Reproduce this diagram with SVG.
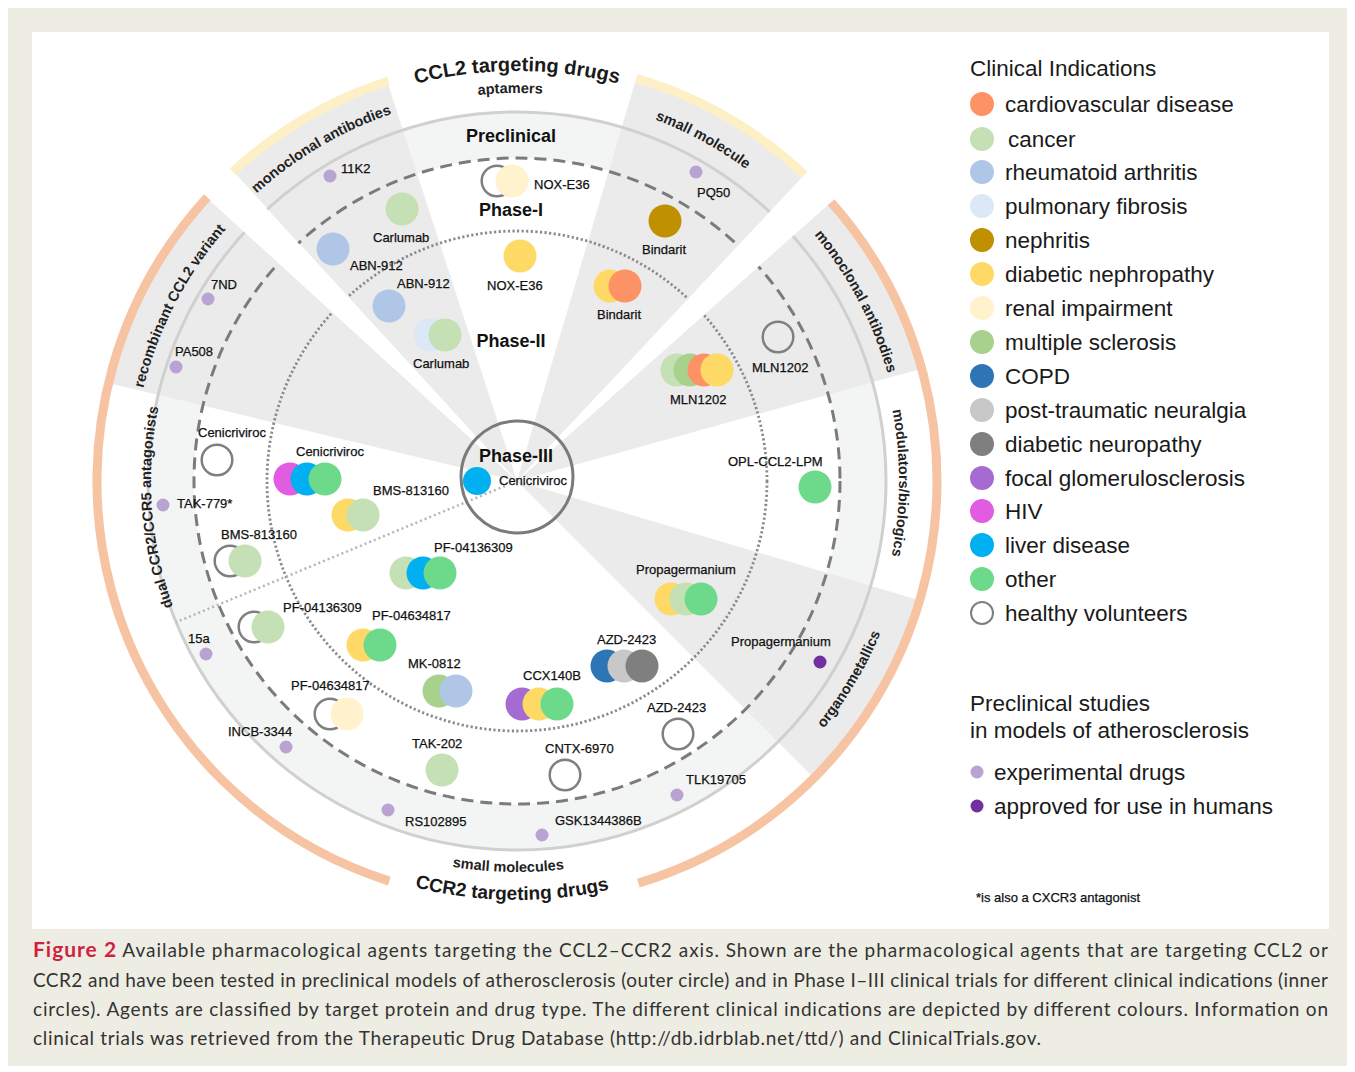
<svg xmlns="http://www.w3.org/2000/svg" width="1355" height="1072" viewBox="0 0 1355 1072">
<style>
.lb{font-family:"Liberation Sans",Arial,sans-serif;font-size:13px;fill:#111;stroke:#111;stroke-width:0.25}
.ph{font-family:"Liberation Sans",Arial,sans-serif;font-size:18px;font-weight:bold;fill:#111;text-anchor:middle}
.cat{font-family:"Liberation Sans",Arial,sans-serif;font-size:14.5px;font-weight:bold;fill:#222}
.big{font-family:"Liberation Sans",Arial,sans-serif;font-weight:bold;fill:#1a1a1a}
.lg{font-family:"Liberation Sans",Arial,sans-serif;font-size:22.5px;fill:#1a1a1a}
.cap{font-family:Lato,"Open Sans",sans-serif;font-size:19px;fill:#333}
.cv{fill:#fd9264}.ca{fill:#c5e0b4}.ra{fill:#b0c6e7}.pf{fill:#dce8f5}.ne{fill:#bf9000}.dn{fill:#ffd966}.ri{fill:#fff2cc}.ms{fill:#a9d18e}.co{fill:#2e75b6}.pt{fill:#c8c8c8}.dnu{fill:#7f7f7f}.fg{fill:#a66bd3}.hiv{fill:#e15ce0}.lv{fill:#00b0f0}.ot{fill:#6dd98a}
.hv{fill:none;stroke:#7f7f7f;stroke-width:2.5}
.ex{fill:#b9a3d2}.ap{fill:#7030a0}
.sec{fill:#ebebeb}
.band{fill:none;stroke-width:9}
</style>
<defs>
<path id="p-ccl2" d="M202.9,217.5 A410,410 0 0 1 831.1,217.5"/>
<path id="p-apt" d="M262.4,188.2 A388,388 0 0 1 761.2,179.5"/>
<path id="p-mab1" d="M151.3,351.5 A388,388 0 0 1 581,98.3"/>
<path id="p-sm1" d="M440.5,101.6 A387,387 0 0 1 877.3,339.8"/>
<path id="p-rec" d="M161.6,629 A385,385 0 0 1 433,105.3"/>
<path id="p-dual" d="M302.9,777.9 A366,366 0 0 1 261.8,218.6"/>
<path id="p-mab2" d="M597.9,103.6 A386,386 0 0 1 874.6,626.2"/>
<path id="p-mod" d="M764.1,189.6 A382,382 0 0 1 761,774.9"/>
<path id="p-org" d="M580,869.9 A394,394 0 0 0 889.1,351.4"/>
<path id="p-sm2" d="M211.9,725.5 A391,391 0 0 0 810.8,739.1"/>
<path id="p-ccr2" d="M192.8,746.4 A419,419 0 0 0 834.6,754.2"/>
</defs>

<rect width="1355" height="1072" fill="#fff"/>
<rect x="8" y="8" width="1339" height="1058" fill="#eeede3"/>
<rect x="32" y="32" width="1297" height="897" fill="#fff"/>

<g id="sectors">
<circle cx="517" cy="481" r="346" fill="none" stroke="#f3f5f4" stroke-width="46"/>
<path class="sec" d="M517,481 L235.3,173.5 A417,417 0 0 1 388.1,84.4 Z"/>
<path class="sec" d="M517,481 L635.4,81.2 A417,417 0 0 1 804.1,178.5 Z"/>
<path class="sec" d="M517,481 L827.9,203.1 A417,417 0 0 1 918.8,369.6 Z"/>
<path class="sec" d="M517,481 L916.8,599.4 A417,417 0 0 1 811.9,775.9 Z"/>
<path class="sec" d="M517,481 L111.5,383.7 A417,417 0 0 1 210.5,198.2 Z"/>
</g>

<g id="rings">
<circle cx="517" cy="481" r="369" fill="none" stroke="#d0d0d0" stroke-width="3"/>
<circle cx="517" cy="481" r="323" fill="none" stroke="#7b7b7b" stroke-width="3" stroke-dasharray="12 7"/>
<circle cx="517" cy="481" r="250" fill="none" stroke="#8a8a8a" stroke-width="2.8" stroke-dasharray="2.2 2.4"/>
<line x1="505" y1="486" x2="176.1" y2="622.2" stroke="#b5b5b5" stroke-width="2.5" stroke-dasharray="2 3"/>
</g>

<g id="gaps" fill="#fff">
<polygon points="517,481 198.0,189.7 224.6,163.0"/>
<polygon points="517,481 812.7,166.1 840.0,194.2"/>
</g>

<g id="bands">
<path class="band" stroke="#fdefc6" d="M232.7,171.8 A420,420 0 0 1 388.6,81.1"/>
<path class="band" stroke="#fdefc6" d="M636.3,78.3 A420,420 0 0 1 804.5,174.8"/>
<path class="band" stroke="#f6c4a2" d="M389.3,881.1 A420,420 0 0 1 207.3,197.2"/>
<path class="band" stroke="#f6c4a2" d="M831.1,202.2 A420,420 0 0 1 638.4,883.1"/>
</g>

<g id="phase3-ring">
<circle cx="517" cy="477" r="56" fill="none" stroke="#7b7b7b" stroke-width="3"/>
</g>

<g id="category-labels">
<text class="big" font-size="20" text-anchor="middle"><textPath href="#p-ccl2" startOffset="50%">CCL2 targeting drugs</textPath></text>
<text class="cat" text-anchor="middle"><textPath href="#p-apt" startOffset="50%">aptamers</textPath></text>
<text class="cat" text-anchor="middle"><textPath href="#p-mab1" startOffset="50%">monoclonal antibodies</textPath></text>
<text class="cat" text-anchor="middle"><textPath href="#p-sm1" startOffset="50%">small molecule</textPath></text>
<text class="cat" text-anchor="middle"><textPath href="#p-rec" startOffset="50%">recombinant CCL2 variant</textPath></text>
<text class="cat" text-anchor="middle" font-weight="normal" font-size="14"><textPath href="#p-dual" startOffset="50%">dual CCR2/CCR5 antagonists</textPath></text>
<text class="cat" text-anchor="middle"><textPath href="#p-mab2" startOffset="50%">monoclonal antibodies</textPath></text>
<text class="cat" text-anchor="middle"><textPath href="#p-mod" startOffset="50%">modulators/biologics</textPath></text>
<text class="cat" text-anchor="middle"><textPath href="#p-org" startOffset="50%">organometallics</textPath></text>
<text class="cat" text-anchor="middle"><textPath href="#p-sm2" startOffset="50%">small molecules</textPath></text>
<text class="big" font-size="19" text-anchor="middle"><textPath href="#p-ccr2" startOffset="50%">CCR2 targeting drugs</textPath></text>
</g>

<g id="phase-labels">
<text class="ph" x="511" y="142">Preclinical</text>
<text class="ph" x="511" y="216">Phase-I</text>
<text class="ph" x="511" y="347">Phase-II</text>
<text class="ph" x="516" y="462">Phase-III</text>
</g>

<g id="n-11K2"><circle class="ex" cx="330" cy="176" r="6.5"/><text class="lb" x="341" y="173">11K2</text></g>
<g id="n-carlumab-pre"><circle class="ca" cx="402" cy="209" r="16.5"/><text class="lb" x="373" y="242">Carlumab</text></g>
<g id="n-abn912-pre"><circle class="ra" cx="333" cy="249" r="16.5"/><text class="lb" x="350" y="270">ABN-912</text></g>
<g id="n-abn912-p2"><circle class="ra" cx="389" cy="306" r="16.5"/><text class="lb" x="397" y="288">ABN-912</text></g>
<g id="n-carlumab-p2"><circle class="pf" cx="430" cy="335" r="16.5"/><circle class="ca" cx="445" cy="335" r="16.5"/><text class="lb" x="413" y="368">Carlumab</text></g>
<g id="n-noxe36-pre"><circle class="hv" cx="497" cy="181" r="15.3"/><circle class="ri" cx="512" cy="181" r="16.5"/><text class="lb" x="534" y="189">NOX-E36</text></g>
<g id="n-noxe36-p1"><circle class="dn" cx="520" cy="256" r="16.5"/><text class="lb" x="487" y="290">NOX-E36</text></g>
<g id="n-pq50"><circle class="ex" cx="696" cy="172" r="6.5"/><text class="lb" x="697" y="197">PQ50</text></g>
<g id="n-bindarit-pre"><circle class="ne" cx="665" cy="221" r="16.5"/><text class="lb" x="642" y="254">Bindarit</text></g>
<g id="n-bindarit-p2"><circle class="dn" cx="610" cy="286" r="16.5"/><circle class="cv" cx="625" cy="286" r="16.5"/><text class="lb" x="597" y="319">Bindarit</text></g>

<g id="n-mln1202-pre"><circle class="hv" cx="778" cy="337" r="15.3"/><text class="lb" x="752" y="372">MLN1202</text></g>
<g id="n-mln1202-p2"><circle class="ca" cx="677" cy="370" r="16.5"/><circle class="ms" cx="690" cy="370" r="16.5"/><circle class="cv" cx="704" cy="370" r="16.5"/><circle class="dn" cx="717" cy="370" r="16.5"/><text class="lb" x="670" y="404">MLN1202</text></g>
<g id="n-opl"><circle class="ot" cx="815" cy="487" r="16.5"/><text class="lb" x="728" y="466">OPL-CCL2-LPM</text></g>
<g id="n-propa-pre"><circle class="ap" cx="820" cy="662" r="6.5"/><text class="lb" x="731" y="646">Propagermanium</text></g>
<g id="n-propa-p2"><circle class="dn" cx="671" cy="599" r="16.5"/><circle class="ca" cx="686" cy="599" r="16.5"/><circle class="ot" cx="701" cy="599" r="16.5"/><text class="lb" x="636" y="574">Propagermanium</text></g>

<g id="n-azd2423-p2"><circle class="co" cx="607" cy="666" r="16.5"/><circle class="pt" cx="624" cy="666" r="16.5"/><circle class="dnu" cx="642" cy="666" r="16.5"/><text class="lb" x="597" y="644">AZD-2423</text></g>
<g id="n-ccx140b"><circle class="fg" cx="522" cy="704" r="16.5"/><circle class="dn" cx="539" cy="704" r="16.5"/><circle class="ot" cx="557" cy="704" r="16.5"/><text class="lb" x="523" y="680">CCX140B</text></g>
<g id="n-azd2423-pre"><circle class="hv" cx="678" cy="734" r="15.3"/><text class="lb" x="647" y="712">AZD-2423</text></g>
<g id="n-cntx6970"><circle class="hv" cx="565" cy="775" r="15.3"/><text class="lb" x="545" y="753">CNTX-6970</text></g>
<g id="n-tlk19705"><circle class="ex" cx="677" cy="795" r="6.5"/><text class="lb" x="686" y="784">TLK19705</text></g>
<g id="n-gsk"><circle class="ex" cx="542" cy="835" r="6.5"/><text class="lb" x="555" y="825">GSK1344386B</text></g>
<g id="n-rs102895"><circle class="ex" cx="388" cy="810" r="6.5"/><text class="lb" x="405" y="826">RS102895</text></g>
<g id="n-tak202"><circle class="ca" cx="442" cy="770" r="16.5"/><text class="lb" x="412" y="748">TAK-202</text></g>
<g id="n-incb3344"><circle class="ex" cx="286" cy="747" r="6.5"/><text class="lb" x="228" y="736">INCB-3344</text></g>
<g id="n-pf04634817-pre"><circle class="hv" cx="330" cy="714" r="15.3"/><circle class="ri" cx="347" cy="714" r="16.5"/><text class="lb" x="291" y="690">PF-04634817</text></g>
<g id="n-mk0812"><circle class="ms" cx="439" cy="691" r="16.5"/><circle class="ra" cx="456" cy="691" r="16.5"/><text class="lb" x="408" y="668">MK-0812</text></g>
<g id="n-pf04634817-p2"><circle class="dn" cx="363" cy="645" r="16.5"/><circle class="ot" cx="380" cy="645" r="16.5"/><text class="lb" x="372" y="620">PF-04634817</text></g>
<g id="n-pf04136309-pre"><circle class="hv" cx="254" cy="627" r="15.3"/><circle class="ca" cx="268" cy="627" r="16.5"/><text class="lb" x="283" y="612">PF-04136309</text></g>
<g id="n-15a"><circle class="ex" cx="206" cy="654" r="6.5"/><text class="lb" x="188" y="643">15a</text></g>
<g id="n-pf04136309-p2"><circle class="ca" cx="406" cy="573" r="16.5"/><circle class="lv" cx="423" cy="573" r="16.5"/><circle class="ot" cx="440" cy="573" r="16.5"/><text class="lb" x="434" y="552">PF-04136309</text></g>

<g id="n-cenicriviroc-pre"><circle class="hv" cx="217" cy="460" r="15.3"/><text class="lb" x="198" y="437">Cenicriviroc</text></g>
<g id="n-cenicriviroc-p2"><circle class="hiv" cx="290" cy="479" r="16.5"/><circle class="lv" cx="307" cy="479" r="16.5"/><circle class="ot" cx="325" cy="479" r="16.5"/><text class="lb" x="296" y="456">Cenicriviroc</text></g>
<g id="n-bms813160-p2"><circle class="dn" cx="348" cy="515" r="16.5"/><circle class="ca" cx="363" cy="515" r="16.5"/><text class="lb" x="373" y="495">BMS-813160</text></g>
<g id="n-tak779"><circle class="ex" cx="163" cy="505" r="6.5"/><text class="lb" x="177" y="508">TAK-779*</text></g>
<g id="n-bms813160-pre"><circle class="hv" cx="230" cy="561" r="15.3"/><circle class="ca" cx="245" cy="561" r="16.5"/><text class="lb" x="221" y="539">BMS-813160</text></g>
<g id="n-cenicriviroc-p3"><circle class="lv" cx="477" cy="481" r="14"/><text class="lb" x="499" y="485" font-size="12.5">Cenicriviroc</text></g>
<g id="n-7nd"><circle class="ex" cx="208" cy="299" r="6.5"/><text class="lb" x="211" y="289">7ND</text></g>
<g id="n-pa508"><circle class="ex" cx="176" cy="367" r="6.5"/><text class="lb" x="175" y="356">PA508</text></g>

<g id="connectors"></g>

<g id="legend">
<text class="lg" x="970" y="76">Clinical Indications</text>
<circle class="cv" cx="982" cy="104" r="12"/><text class="lg" x="1005" y="112">cardiovascular disease</text>
<circle class="ca" cx="982" cy="139" r="12"/><text class="lg" x="1008" y="147">cancer</text>
<circle class="ra" cx="982" cy="172" r="12"/><text class="lg" x="1005" y="180">rheumatoid arthritis</text>
<circle class="pf" cx="982" cy="206" r="12"/><text class="lg" x="1005" y="214">pulmonary fibrosis</text>
<circle class="ne" cx="982" cy="240" r="12"/><text class="lg" x="1005" y="248">nephritis</text>
<circle class="dn" cx="982" cy="274" r="12"/><text class="lg" x="1005" y="282">diabetic nephropathy</text>
<circle class="ri" cx="982" cy="308" r="12"/><text class="lg" x="1005" y="316">renal impairment</text>
<circle class="ms" cx="982" cy="342" r="12"/><text class="lg" x="1005" y="350">multiple sclerosis</text>
<circle class="co" cx="982" cy="376" r="12"/><text class="lg" x="1005" y="384">COPD</text>
<circle class="pt" cx="982" cy="410" r="12"/><text class="lg" x="1005" y="418">post-traumatic neuralgia</text>
<circle class="dnu" cx="982" cy="444" r="12"/><text class="lg" x="1005" y="452">diabetic neuropathy</text>
<circle class="fg" cx="982" cy="478" r="12"/><text class="lg" x="1005" y="486">focal glomerulosclerosis</text>
<circle class="hiv" cx="982" cy="511" r="12"/><text class="lg" x="1005" y="519">HIV</text>
<circle class="lv" cx="982" cy="545" r="12"/><text class="lg" x="1005" y="553">liver disease</text>
<circle class="ot" cx="982" cy="579" r="12"/><text class="lg" x="1005" y="587">other</text>
<circle cx="982" cy="613" r="11" fill="#fff" stroke="#7f7f7f" stroke-width="2"/><text class="lg" x="1005" y="621">healthy volunteers</text>
<text class="lg" x="970" y="711">Preclinical studies</text>
<text class="lg" x="970" y="738">in models of atherosclerosis</text>
<circle class="ex" cx="977" cy="772" r="6.5"/><text class="lg" x="994" y="780">experimental drugs</text>
<circle class="ap" cx="977" cy="806" r="6.5"/><text class="lg" x="994" y="814">approved for use in humans</text>
<text class="lb" x="976" y="902" stroke="none">*is also a CXCR3 antagonist</text>
</g>

<g id="caption">
<text class="cap" x="33" y="957" textLength="1295" lengthAdjust="spacing"><tspan font-weight="bold" font-size="21" fill="#d11f41">Figure 2</tspan> Available pharmacological agents targeting the CCL2–CCR2 axis. Shown are the pharmacological agents that are targeting CCL2 or</text>
<text class="cap" x="33" y="987" textLength="1295" lengthAdjust="spacing">CCR2 and have been tested in preclinical models of atherosclerosis (outer circle) and in Phase I–III clinical trials for different clinical indications (inner</text>
<text class="cap" x="33" y="1016" textLength="1295" lengthAdjust="spacing">circles). Agents are classified by target protein and drug type. The different clinical indications are depicted by different colours. Information on</text>
<text class="cap" x="33" y="1045" textLength="1008" lengthAdjust="spacing">clinical trials was retrieved from the Therapeutic Drug Database (http://db.idrblab.net/ttd/) and ClinicalTrials.gov.</text>
</g>
</svg>
